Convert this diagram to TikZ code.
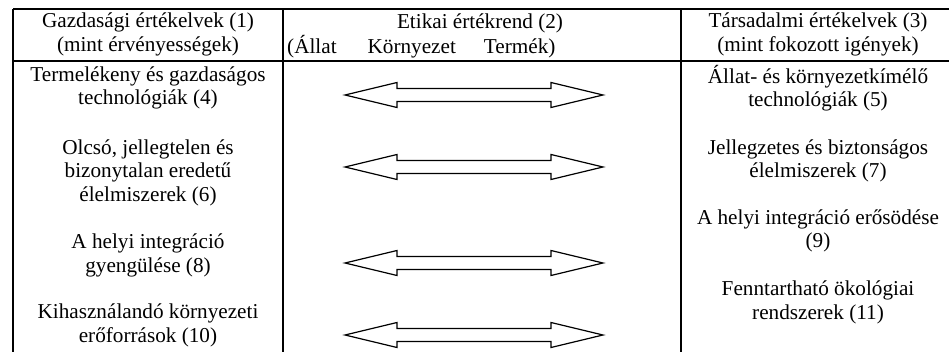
\documentclass[tikz,border=0pt]{standalone}
\usepackage{fontspec}
\setmainfont{Liberation Serif}
\begin{document}
\begin{tikzpicture}[x=1pt,y=-1pt,
  rule/.style={line width=1.4pt},
  cell/.style={align=center,inner sep=0pt,font=\fontsize{21.2}{23.5}\selectfont},
  dblarrow/.style={draw,line width=1.2pt,fill=white,line join=miter}]
\useasboundingbox (0,0) rectangle (949,352);
% table rules
\coordinate (tl) at (13,9);
\coordinate (tr) at (949,9);
\coordinate (ml) at (13,61);
\coordinate (mr) at (949,61);
\coordinate (v1t) at (13,9);   \coordinate (v1b) at (13,352);
\coordinate (v2t) at (283,9);  \coordinate (v2b) at (283,352);
\coordinate (v3t) at (681,9);  \coordinate (v3b) at (681,352);
\draw[rule] (tl) -- (tr);
\draw[rule] (ml) -- (mr);
\draw[rule] (v1t) -- (v1b);
\draw[rule] (v2t) -- (v2b);
\draw[rule] (v3t) -- (v3b);
% headers
\node[cell] (h1) at (148,34.5) {Gazdasági értékelvek (1)\\(mint érvényességek)};
\node[cell] (h2) at (480,23.5) {Etikai értékrend (2)};
\node[cell,anchor=west] (h2b) at (287,46.5) {(Állat\hspace{31pt}Környezet\hspace{28pt}Termék)};
\node[cell] (h3) at (818,34.5) {Társadalmi értékelvek (3)\\(mint fokozott igények)};
% left column
\node[cell] (a1) at (148,88) {Termelékeny és gazdaságos\\technológiák (4)};
\node[cell] (b1) at (148,172.5) {Olcsó, jellegtelen és\\bizonytalan eredetű\\élelmiszerek (6)};
\node[cell] (c1) at (148,255.5) {A helyi integráció\\gyengülése (8)};
\node[cell] (d1) at (148,325.5) {Kihasználandó környezeti\\erőforrások (10)};
% right column
\node[cell] (a3) at (818,88) {Állat- és környezetkímélő\\technológiák (5)};
\node[cell] (b3) at (818,161) {Jellegzetes és biztonságos\\élelmiszerek (7)};
\node[cell] (c3) at (818,231) {A helyi integráció erősödése\\(9)};
\node[cell] (d3) at (818,302.5) {Fenntartható ökológiai\\rendszerek (11)};
% double arrows
\foreach \yy/\nm in {95/ar1,167/ar2,263/ar3,335/ar4}{
  \coordinate (\nm) at (345,\yy);
  \draw[dblarrow] (\nm) -- ++(52,-12.5) -- ++(0,6) -- ++(154,0) -- ++(0,-6)
     -- ++(52,12.5) -- ++(-52,12.5) -- ++(0,-6) -- ++(-154,0) -- ++(0,6) -- cycle;
}
\end{tikzpicture}
\end{document}
